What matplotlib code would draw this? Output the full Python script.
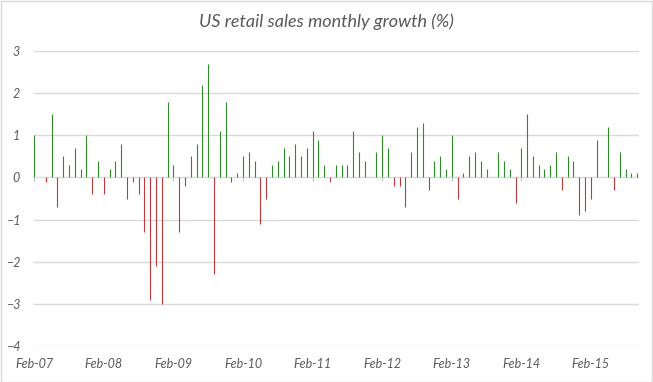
import pandas as pd
import matplotlib.pyplot as plt
import numpy as np

# monthly growth of US retail sales, Feb-07 .. Oct-15
growth = [1.0, 0.0, -0.1, 1.5, -0.7, 0.5, 0.3, 0.7, 0.2, 1.0, -0.4, 0.4,
          -0.4, 0.2, 0.4, 0.8, -0.5, -0.1, -0.4, -1.3, -2.9, -2.1, -3.0, 1.8,
          0.3, -1.3, -0.2, 0.5, 0.8, 2.2, 2.7, -2.3, 1.1, 1.8, -0.1, 0.1,
          0.5, 0.6, 0.4, -1.1, -0.5, 0.3, 0.4, 0.7, 0.5, 0.8, 0.5, 0.7,
          1.1, 0.9, 0.3, -0.1, 0.3, 0.3, 0.3, 1.1, 0.6, 0.4, 0.0, 0.6,
          1.0, 0.7, -0.2, -0.2, -0.7, 0.6, 1.2, 1.3, -0.3, 0.4, 0.5, 0.2,
          1.0, -0.5, 0.1, 0.5, 0.6, 0.4, 0.2, 0.0, 0.6, 0.4, 0.2, -0.6,
          0.7, 1.5, 0.5, 0.3, 0.2, 0.3, 0.6, -0.3, 0.5, 0.4, -0.9, -0.8,
          -0.5, 0.9, 0.0, 1.2, -0.3, 0.6, 0.2, 0.1, 0.1]
months = pd.date_range('2007-02-01', periods=len(growth), freq='MS')
month_labels = months.strftime('%b-%y')
yticks = [-4, -3, -2, -1, 0, 1, 2, 3]

grey = '#595959'
fnt = 'Lato'

fig = plt.figure(figsize=(6.53, 3.82), dpi=100)
ax = fig.add_axes([34/653, 1 - 346/382, 605/653, 295/382])

x = np.arange(len(growth))
vals = np.array(growth)
colors = np.where(vals >= 0, '#2f8a2a', '#c0393b')
# one-pixel wide bars
ax.vlines(x, 0, vals, colors=colors, lw=0.8, zorder=3)

ax.set_ylim(-4, 3)
ax.set_xlim(-0.05, 104.3)
ax.set_yticks(yticks)
ax.grid(axis='y', color='#d9d9d9', lw=1)
ax.set_axisbelow(True)
for s in ax.spines.values():
    s.set_visible(False)

tick_pos = x[::12]
ax.set_xticks(tick_pos)
ax.set_xticklabels(month_labels[::12])
ax.tick_params(axis='x', length=0, pad=9, labelsize=9, labelcolor=grey)
ax.tick_params(axis='y', length=0, pad=10, labelsize=9, labelcolor=grey)
for lab in ax.get_xticklabels() + ax.get_yticklabels():
    lab.set_fontfamily(fnt)
    lab.set_fontstyle('italic')

# small tick marks hanging under the zero line
sec = ax.secondary_xaxis(4/7)
sec.xaxis.set_ticks_position('bottom')
sec.set_xticks(tick_pos)
sec.set_xticklabels([])
sec.tick_params(direction='out', length=3, color='#bfbfbf')
for s in sec.spines.values():
    s.set_visible(False)

fig.text(326/653, 1 - 22/382, 'US retail sales monthly growth (%)', ha='center', va='center',
         fontsize=13, color=grey, fontfamily=fnt, fontstyle='italic')

fig.patches.append(plt.Rectangle((0.001, 0.001), 0.997, 0.996, transform=fig.transFigure,
                                 fill=False, edgecolor='#d9d9d9', lw=1))

fig.savefig('out.png', dpi=100)
